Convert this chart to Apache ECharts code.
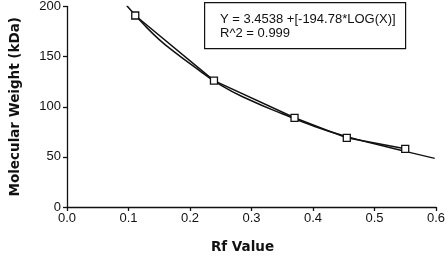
<!DOCTYPE html>
<html>
<head>
<meta charset="utf-8">
<script src="https://cdn.jsdelivr.net/npm/echarts@6/dist/echarts.min.js"></script>
<style>html,body{margin:0;padding:0;background:#fff;}#c{width:448px;height:262px;}</style>
</head>
<body>
<div id="c"></div>
<script>
// Measured data points (Rf, MW kDa)
var pointRf = [0.111, 0.239, 0.370, 0.455, 0.550];
var pointMW = [191, 126, 89, 69, 58];
// Fitted log curve
var curveRf = [0.097, 0.125, 0.15, 0.175, 0.2, 0.25, 0.3, 0.35, 0.4, 0.45, 0.5, 0.55, 0.598];
var curveMW = [201, 182, 167, 154.5, 143, 121.5, 106, 93, 81, 71, 63, 55.5, 48.5];
var xTicks = [0, 0.1, 0.2, 0.3, 0.4, 0.5, 0.6];
var yTicks = [0, 50, 100, 150, 200];
var equationText = ['Y = 3.4538 +[-194.78*LOG(X)]', 'R^2 = 0.999'];

var chart = echarts.init(document.getElementById('c'), null, {renderer: 'canvas'});
var font = 'Liberation Sans, Arial, sans-serif';
var boldFont = 'DejaVu Sans, sans-serif';
var pts = pointRf.map(function (x, i) { return [x, pointMW[i]]; });
var crv = curveRf.map(function (x, i) { return [x, curveMW[i]]; });
chart.setOption({
  animation: false,
  backgroundColor: '#fff',
  grid: {left: 61, right: 10, top: 6, bottom: 55},
  xAxis: {
    type: 'value', min: xTicks[0], max: xTicks[xTicks.length - 1], interval: 0.1,
    name: 'Rf Value', nameLocation: 'middle', nameGap: 33,
    nameTextStyle: {fontFamily: boldFont, fontWeight: 'bold', fontSize: 13.5, color: '#111', padding: [0, 18, 0, 0]},
    axisLine: {lineStyle: {color: '#111', width: 1.3}},
    axisTick: {show: true, inside: false, length: 4, lineStyle: {color: '#111', width: 1.3}},
    axisLabel: {fontFamily: font, fontSize: 13, color: '#111', margin: 5,
      formatter: function (v) { return v.toFixed(1); }},
    splitLine: {show: false}
  },
  yAxis: {
    type: 'value', min: yTicks[0], max: yTicks[yTicks.length - 1], interval: 50,
    name: 'Molecular Weight (kDa)', nameLocation: 'middle', nameGap: 45, nameRotate: 90,
    nameTextStyle: {fontFamily: boldFont, fontWeight: 'bold', fontSize: 13.5, color: '#111'},
    axisLine: {show: true, lineStyle: {color: '#111', width: 1.3}},
    axisTick: {show: true, inside: false, length: 4, lineStyle: {color: '#111', width: 1.3}},
    axisLabel: {fontFamily: font, fontSize: 13, color: '#111', margin: 6},
    splitLine: {show: false}
  },
  graphic: [
    {type: 'rect', left: 204, top: 2, shape: {width: 201, height: 46},
      style: {fill: '#fff', stroke: '#111', lineWidth: 1.2}, z: 10},
    {type: 'text', left: 220, top: 12, z: 11,
      style: {text: equationText.join('\n'), fontFamily: font, fontSize: 13, fill: '#111', lineHeight: 14}}
  ],
  series: [
    {type: 'line', data: crv, smooth: true, showSymbol: false,
      lineStyle: {color: '#111', width: 1.5}, z: 2},
    {type: 'line', data: pts, symbol: 'rect', symbolSize: 7,
      lineStyle: {color: '#111', width: 1.5},
      itemStyle: {color: '#fff', borderColor: '#111', borderWidth: 1.3}, z: 3}
  ]
});
</script>
</body>
</html>
